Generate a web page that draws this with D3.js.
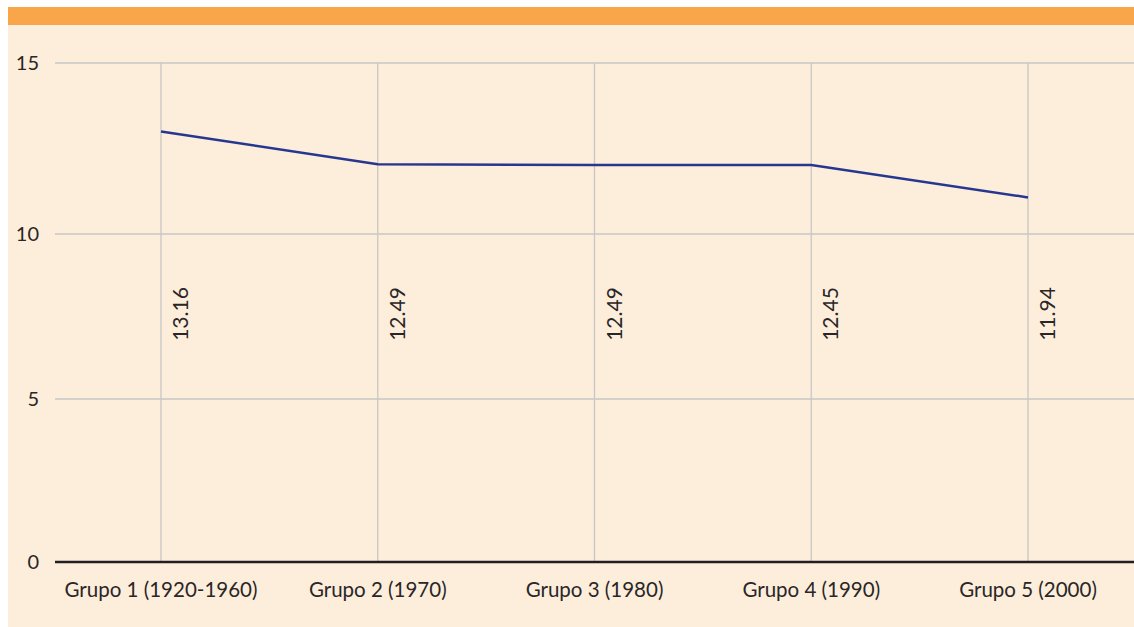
<!DOCTYPE html>
<html>
<head>
<meta charset="utf-8">
<script src="https://cdn.jsdelivr.net/npm/d3@7"></script>
<style>
  body { margin: 0; background: #ffffff; }
  svg { display: block; }
  text { font-family: Lato, "Open Sans", sans-serif; fill: #2a2627; }
</style>
</head>
<body>
<svg id="chart" width="1134" height="627"></svg>
<script>
// data
var grupos = ["Grupo 1 (1920-1960)", "Grupo 2 (1970)", "Grupo 3 (1980)", "Grupo 4 (1990)", "Grupo 5 (2000)"];
var valores = [13.0, 12.04, 12.02, 12.02, 11.07];      // where the line is drawn
var etiquetas = ["13.16", "12.49", "12.49", "12.45", "11.94"]; // printed labels
var yTicks = [0, 5, 10, 15];

var svg = d3.select("#chart");

// header band + panel
svg.append("rect").attr("x", 8).attr("y", 7).attr("width", 1126).attr("height", 18).attr("fill", "#f9a54a");
svg.append("rect").attr("x", 8).attr("y", 25).attr("width", 1126).attr("height", 602).attr("fill", "#fdeedc");

var x = d3.scalePoint().domain(grupos).range([161, 1028]);
// the original axis is not evenly spaced, so map each tick
var y = d3.scaleLinear().domain(yTicks).range([562, 399, 234, 63]);

var gridLeft = 55, gridRight = 1134;

// horizontal grid
svg.append("g").selectAll("line")
  .data(yTicks.filter(function(d) { return d > 0; }))
  .enter().append("line")
    .attr("x1", gridLeft).attr("x2", gridRight)
    .attr("y1", function(d) { return y(d); })
    .attr("y2", function(d) { return y(d); })
    .attr("stroke", "#c9c6c4").attr("stroke-width", 1.3);

// vertical grid
svg.append("g").selectAll("line")
  .data(grupos)
  .enter().append("line")
    .attr("x1", function(d) { return x(d); })
    .attr("x2", function(d) { return x(d); })
    .attr("y1", y(15)).attr("y2", y(0))
    .attr("stroke", "#c9c6c4").attr("stroke-width", 1.3);

// y tick labels
svg.append("g").selectAll("text")
  .data(yTicks)
  .enter().append("text")
    .attr("x", 39)
    .attr("y", function(d) { return y(d); })
    .attr("dy", "0.36em")
    .attr("text-anchor", "end")
    .attr("font-size", 20)
    .text(function(d) { return d; });

// baseline axis
svg.append("line")
  .attr("x1", gridLeft).attr("x2", gridRight)
  .attr("y1", y(0)).attr("y2", y(0))
  .attr("stroke", "#231f20").attr("stroke-width", 2.5);

// category labels
svg.append("g").selectAll("text")
  .data(grupos)
  .enter().append("text")
    .attr("x", function(d) { return x(d); })
    .attr("y", 597)
    .attr("text-anchor", "middle")
    .attr("font-size", 20.5)
    .text(function(d) { return d; });

// line
var line = d3.line()
  .x(function(d, i) { return x(grupos[i]); })
  .y(function(d) { return y(d); });

svg.append("path")
  .datum(valores)
  .attr("d", line)
  .attr("fill", "none")
  .attr("stroke", "#27378f")
  .attr("stroke-width", 2.5);

// rotated value labels
svg.append("g").selectAll("text")
  .data(etiquetas)
  .enter().append("text")
    .attr("transform", function(d, i) { return "translate(" + (x(grupos[i]) + 27) + ",314) rotate(-90)"; })
    .attr("text-anchor", "middle")
    .attr("font-size", 21)
    .text(function(d) { return d; });
</script>
</body>
</html>
